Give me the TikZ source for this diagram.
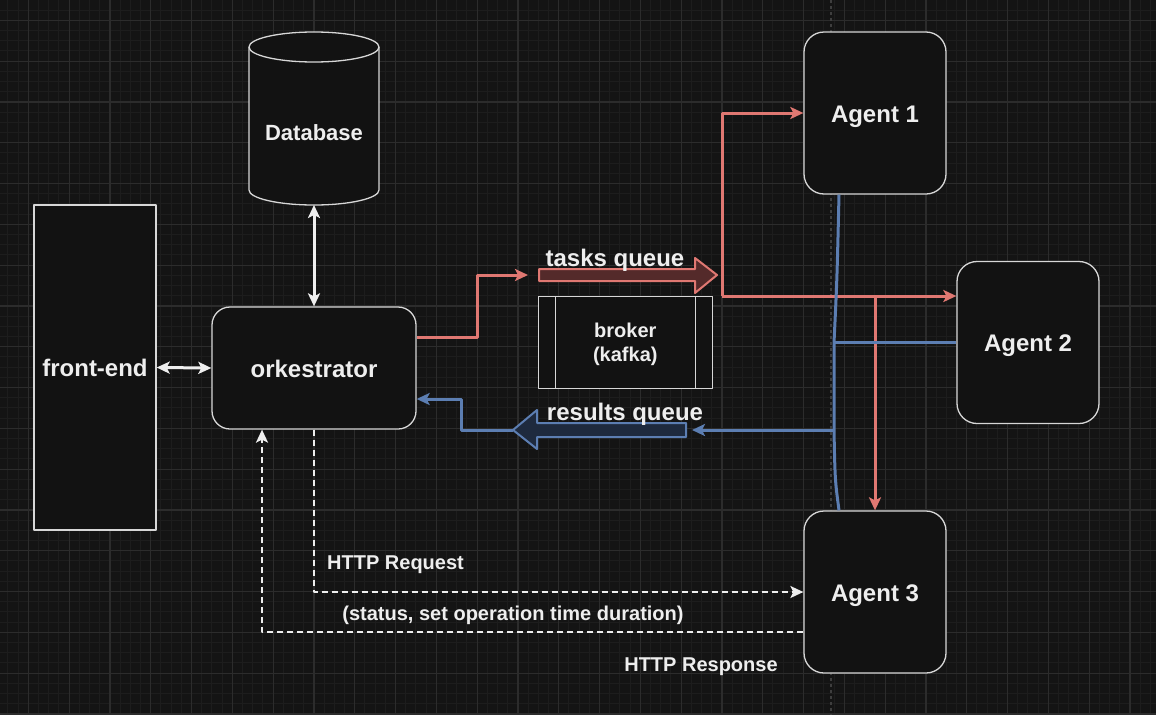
\documentclass[tikz,border=0pt]{standalone}
\usepackage{fontspec}
\setmainfont{Liberation Sans}
\usetikzlibrary{arrows.meta}

\definecolor{bgdark}{RGB}{20,20,20}
\definecolor{gridminor}{RGB}{29,29,29}
\definecolor{gridmajor}{RGB}{44,44,44}
\definecolor{nodefill}{RGB}{18,18,18}
\definecolor{boxline}{RGB}{215,215,215}
\definecolor{labeltext}{RGB}{238,238,238}
\definecolor{taskred}{RGB}{224,120,114}
\definecolor{taskfill}{RGB}{84,42,42}
\definecolor{resblue}{RGB}{92,126,178}
\definecolor{resfill}{RGB}{30,42,62}
\definecolor{guidegray}{RGB}{62,62,62}

\begin{document}
\begin{tikzpicture}[x=1pt, y=-1pt, >={Stealth[length=13pt,width=12pt,inset=3pt]}, line join=round,
    box/.style={draw=boxline, fill=nodefill, line width=1.3pt, text=labeltext, align=center, inner sep=0pt,
      text height=18pt, text depth=0pt, font=\bfseries\fontsize{24}{28}\selectfont},
    agent/.style={box, rounded corners=20pt, minimum width=142pt, minimum height=162pt},
    lbl/.style={text=labeltext, inner sep=0pt, text height=14.5pt, text depth=0pt,
      font=\bfseries\fontsize{20}{24}\selectfont},
    qlbl/.style={lbl, text height=18pt, font=\bfseries\fontsize{24}{28}\selectfont},
    link/.style={draw=labeltext, line width=3pt},
    http/.style={draw=labeltext, line width=2pt, dash pattern=on 6pt off 4pt},
    tasks/.style={draw=taskred, line width=3pt},
    results/.style={draw=resblue, line width=3pt}]

	\useasboundingbox (0,0) rectangle (1156,715);
	\fill[bgdark] (0,0) rectangle (1156,715);
	\begin{scope}
		\clip (0,0) rectangle (1156,715);
		\foreach \i in {0,...,115} { \draw[gridminor, line width=1pt] ({-12.5+10.2*\i},0) -- ++(0,715); }
		\foreach \i in {0,...,71} { \draw[gridminor, line width=1pt] (0,{-0.1+10.2*\i}) -- ++(1156,0); }
		\foreach \i in {0,...,28} { \draw[gridmajor, line width=1.2pt] ({28.3+40.8*\i},0) -- ++(0,715); }
		\foreach \i in {0,...,17} { \draw[gridmajor, line width=1.2pt] (0,{20.3+40.8*\i}) -- ++(1156,0); }
	\end{scope}
	\draw[guidegray, line width=1.5pt, dash pattern=on 3pt off 3pt] (831,0) -- (831,715);

	% database
	\path[fill=nodefill] (249,47) -- (249,190) arc[start angle=180, end angle=360, x radius=65pt, y radius=15pt]
		-- (379,47) arc[start angle=0, end angle=180, x radius=65pt, y radius=15pt] -- cycle;
	\draw[boxline, line width=1.3pt] (249,47) -- (249,190) arc[start angle=180, end angle=360, x radius=65pt, y radius=15pt] -- (379,47);
	\draw[boxline, line width=1.3pt] (314,47) ellipse[x radius=65pt, y radius=15pt];
	\node[lbl, text height=16pt, font=\bfseries\fontsize{22}{26}\selectfont] (db) at (314,132) {Database};
	\coordinate (dbbot) at (314,205);

	\node[box, minimum width=122pt, minimum height=325pt] (fe) at (95,367.5) {front-end};
	\node[box, rounded corners=18pt, minimum width=204pt, minimum height=122pt] (ork) at (314,368) {orkestrator};
	\node[box, line width=1.2pt, minimum width=174pt, minimum height=92pt, text height=38.5pt, text depth=0pt,
		font=\bfseries\fontsize{20}{24}\selectfont] (broker) at (625.3,342.5) {broker\\(kafka)};
	\draw[boxline, line width=1.2pt] ([xshift=17.7pt]broker.north west) -- ([xshift=17.7pt]broker.south west);
	\draw[boxline, line width=1.2pt] ([xshift=-17.7pt]broker.north east) -- ([xshift=-17.7pt]broker.south east);

	\node[agent] (a1) at (875,113) {Agent 1};
	\node[agent] (a2) at (1028,342.5) {Agent 2};
	\node[agent] (a3) at (875,592) {Agent 3};

	% queues
	\coordinate (tq) at (539,275);
	\coordinate (rq) at (513,430);
	\coordinate (rqin) at (692,430);
	\filldraw[taskred, fill=taskfill, line width=2pt] (539,269) -- (695,269) -- (695,258) -- (717,275)
		-- (695,293) -- (695,281) -- (539,281) -- cycle;
	\filldraw[resblue, fill=resfill, line width=2pt] (686,423) -- (537,423) -- (537,410) -- (513,430)
		-- (537,449) -- (537,437) -- (686,437) -- cycle;
	\node[qlbl] at (615,257.5) {tasks queue};
	\node[qlbl] at (625,411) {results queue};

	\draw[link, <->] (fe.east) -- (ork.west);
	\draw[link, <->] (dbbot) -- (ork.north);

	\coordinate (tbend) at (477,275);
	\coordinate (fork) at (722,296);
	\coordinate (bus2) at (834,342.5);
	\coordinate (bus3) at (834,430);
	\draw[tasks, ->] ([yshift=31pt]ork.east) -| (tbend) -- ([xshift=-11pt]tq);
	\draw[tasks, ->] (fork) |- (a1.west);
	\draw[tasks, ->] (fork) -- (a2.west |- fork);
	\draw[tasks, ->] (a3.north |- fork) -- (a3.north);

	\draw[results] ([xshift=-36pt]a1.south) .. controls (837,280) .. (bus2) -- (bus3) .. controls (835,480) .. ([xshift=-36pt]a3.north);
	\draw[results] (a2.west) -- (bus2);
	\draw[results, ->] (bus3) -- (rqin);
	\draw[results, ->] (rq) -- (461,430) |- ([yshift=-31pt]ork.east);

	\draw[http, ->] (ork.south) |- (a3.west);
	\draw[http, ->] ([yshift=-40pt]a3.west) -| ([xshift=-52pt]ork.south);
	\node[lbl, anchor=west] at (327,562) {HTTP Request};
	\node[lbl] at (513,613) {(status, set operation time duration)};
	\node[lbl] at (701,664) {HTTP Response};
\end{tikzpicture}
\end{document}
